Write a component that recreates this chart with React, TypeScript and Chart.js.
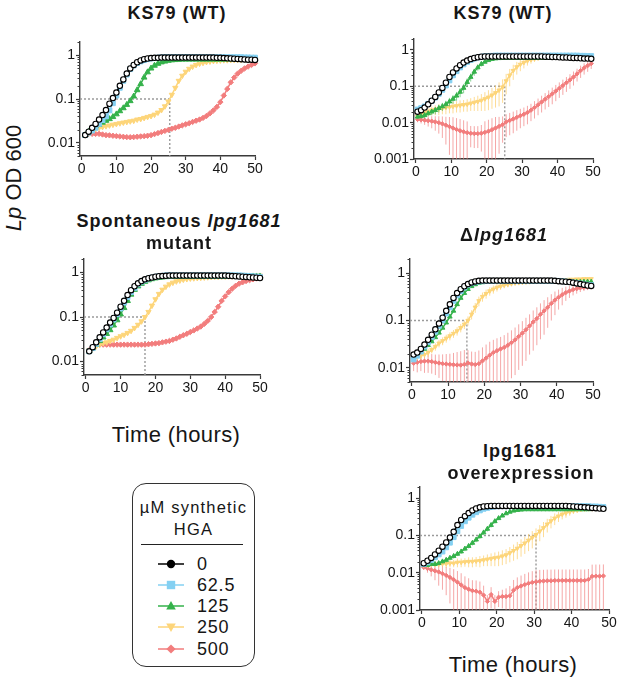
import React, { useEffect, useRef } from "react";
import { Chart, registerables } from "chart.js";

Chart.register(...registerables);

const FONT = "'Liberation Sans', Arial, Helvetica, sans-serif";
const AXIS = "#3a3a3a";
const TEXT = "#161616";

// ---------- categories / ticks ----------
const doseLabels = ["0", "62.5", "125", "250", "500"];
const xTicks = [0, 10, 20, 30, 40, 50];
const yTicksA = [0.01, 0.1, 1];
const yTicksB = [0.001, 0.01, 0.1, 1];
const crossTimes = [25.4, 25.1, 17, 15.2, 30.5];

// ---------- time points (hours) ----------
const hoursLeft = [1,2,3,4,5,6,7,8,9,10,11,12,13,14,15,16,17,18,19,20,21,22,23,24,25,26,27,28,29,30,31,32,33,34,35,36,37,38,39,40,41,42,43,44,45,46,47,48,49,50];
const hoursRight = [0.5,1.5,2.5,3.5,4.5,5.5,6.5,7.5,8.5,9.5,10.5,11.5,12.5,13.5,14.5,15.5,16.5,17.5,18.5,19.5,20.5,21.5,22.5,23.5,24.5,25.5,26.5,27.5,28.5,29.5,30.5,31.5,32.5,33.5,34.5,35.5,36.5,37.5,38.5,39.5,40.5,41.5,42.5,43.5,44.5,45.5,46.5,47.5,48.5,49.5];
const hoursOver = [0.5,1.5,2.5,3.5,4.5,5.5,6.5,7.5,8.5,9.5,10.5,11.5,12.5,13.5,14.5,15.5,16.5,17.5,18.5,19.5,20.5,21.5,22.5,23.5,24.5,25.5,26.5,27.5,28.5,29.5,30.5,31.5,32.5,33.5,34.5,35.5,36.5,37.5,38.5,39.5,40.5,41.5,42.5,43.5,44.5,45.5,46.5,47.5,48.5];

// ---------- Panel 1: KS79 (WT), left ----------
const wtA_0 = [0.015,0.018,0.022,0.027,0.034,0.043,0.056,0.078,0.105,0.14,0.2,0.28,0.38,0.5,0.6,0.69,0.76,0.81,0.84,0.86,0.87,0.87,0.88,0.88,0.88,0.88,0.88,0.88,0.88,0.88,0.88,0.88,0.88,0.88,0.88,0.88,0.88,0.88,0.87,0.87,0.86,0.85,0.84,0.83,0.82,0.81,0.8,0.79,0.79,0.78];
const wtA_62 = [0.015,0.017,0.019,0.022,0.027,0.033,0.04,0.055,0.08,0.12,0.18,0.26,0.36,0.48,0.58,0.66,0.72,0.77,0.81,0.84,0.86,0.88,0.89,0.9,0.9,0.9,0.9,0.9,0.9,0.9,0.9,0.9,0.9,0.9,0.9,0.9,0.9,0.9,0.9,0.9,0.9,0.9,0.9,0.9,0.9,0.9,0.89,0.89,0.88,0.88];
const wtA_125 = [0.015,0.018,0.021,0.024,0.026,0.029,0.032,0.035,0.039,0.045,0.053,0.062,0.074,0.09,0.115,0.16,0.22,0.31,0.41,0.5,0.58,0.64,0.69,0.72,0.75,0.77,0.78,0.79,0.8,0.8,0.8,0.8,0.8,0.8,0.8,0.8,0.8,0.8,0.8,0.8,0.8,0.81,0.81,0.81,0.81,0.82,0.82,0.82,0.82,0.82];
const wtA_250 = [0.015,0.017,0.019,0.021,0.022,0.023,0.024,0.025,0.026,0.027,0.028,0.029,0.03,0.031,0.032,0.034,0.035,0.037,0.039,0.041,0.044,0.049,0.056,0.068,0.088,0.125,0.18,0.26,0.34,0.42,0.49,0.55,0.6,0.64,0.67,0.7,0.72,0.74,0.75,0.76,0.77,0.77,0.78,0.78,0.79,0.79,0.8,0.8,0.8,0.8];
const wtA_500 = [0.015,0.016,0.016,0.016,0.016,0.0155,0.015,0.0148,0.0145,0.0142,0.014,0.0137,0.0135,0.0134,0.0135,0.0138,0.014,0.0142,0.0145,0.015,0.0158,0.0167,0.0177,0.0187,0.0197,0.021,0.022,0.0235,0.025,0.0265,0.028,0.03,0.032,0.034,0.037,0.041,0.047,0.055,0.066,0.085,0.12,0.17,0.24,0.31,0.38,0.44,0.5,0.55,0.6,0.65];

// ---------- Panel 2: KS79 (WT), right ----------
const wtB_0 = [0.02,0.022,0.026,0.032,0.04,0.051,0.068,0.09,0.125,0.18,0.24,0.31,0.38,0.45,0.51,0.56,0.6,0.63,0.65,0.66,0.66,0.66,0.66,0.66,0.66,0.66,0.66,0.66,0.66,0.66,0.66,0.66,0.66,0.66,0.66,0.66,0.65,0.65,0.64,0.64,0.63,0.62,0.62,0.61,0.6,0.6,0.59,0.58,0.58,0.57];
const wtB_62 = [0.023,0.025,0.028,0.033,0.04,0.049,0.062,0.08,0.105,0.145,0.2,0.26,0.33,0.4,0.47,0.53,0.58,0.62,0.65,0.67,0.68,0.69,0.7,0.7,0.7,0.7,0.7,0.7,0.7,0.7,0.7,0.7,0.7,0.7,0.7,0.7,0.7,0.7,0.7,0.7,0.7,0.7,0.7,0.7,0.7,0.7,0.69,0.69,0.68,0.68];
const wtB_125 = [0.0145,0.015,0.016,0.018,0.02,0.022,0.025,0.028,0.032,0.038,0.045,0.055,0.07,0.09,0.13,0.18,0.25,0.33,0.41,0.47,0.52,0.56,0.58,0.59,0.6,0.6,0.6,0.6,0.6,0.6,0.6,0.6,0.6,0.6,0.6,0.6,0.6,0.6,0.6,0.6,0.6,0.6,0.6,0.6,0.6,0.6,0.6,0.6,0.6,0.6];
const wtB_125sd = [0.002,0.002,0.003,0.003,0.004,0.005,0.006,0.007,0.008,0.01,0.012,0.015,0.02,0.026,0.035,0.045,0.055,0.06,0.06,0.05,0.04,0.03,0.025,0.02,0.02,0.02,0.02,0.02,0.02,0.02,0.02,0.02,0.02,0.02,0.02,0.02,0.02,0.02,0.02,0.02,0.02,0.02,0.02,0.02,0.02,0.02,0.02,0.02,0.02,0.02];
const wtB_250 = [0.015,0.017,0.019,0.02,0.022,0.023,0.024,0.025,0.026,0.027,0.028,0.029,0.03,0.031,0.032,0.034,0.036,0.038,0.041,0.045,0.05,0.057,0.066,0.078,0.095,0.14,0.2,0.27,0.34,0.4,0.45,0.5,0.54,0.57,0.6,0.62,0.64,0.65,0.66,0.67,0.67,0.67,0.67,0.67,0.67,0.67,0.67,0.67,0.67,0.67];
const wtB_250sd = [0.002,0.003,0.004,0.005,0.006,0.007,0.008,0.008,0.009,0.009,0.01,0.01,0.011,0.011,0.012,0.013,0.015,0.017,0.02,0.024,0.028,0.033,0.04,0.05,0.06,0.08,0.1,0.12,0.13,0.14,0.14,0.13,0.12,0.1,0.08,0.07,0.06,0.05,0.045,0.04,0.04,0.04,0.04,0.04,0.04,0.04,0.04,0.04,0.04,0.04];
const wtB_500 = [0.0123,0.012,0.0117,0.0113,0.011,0.0105,0.01,0.0093,0.0085,0.0078,0.0071,0.0065,0.006,0.0056,0.0053,0.0051,0.005,0.005,0.0051,0.0054,0.0058,0.0064,0.0071,0.0079,0.0088,0.0105,0.0115,0.0126,0.014,0.0155,0.017,0.019,0.022,0.026,0.031,0.037,0.044,0.052,0.062,0.074,0.088,0.105,0.125,0.15,0.18,0.22,0.27,0.32,0.37,0.42];
const wtB_500sd = [0.002,0.0025,0.003,0.0035,0.004,0.0045,0.005,0.0055,0.006,0.0065,0.007,0.0068,0.0065,0.006,0.0055,0.003,0.003,0.003,0.0035,0.0055,0.0062,0.0068,0.0072,0.0065,0.006,0.0065,0.007,0.0075,0.008,0.0085,0.009,0.01,0.011,0.013,0.015,0.018,0.021,0.025,0.03,0.035,0.04,0.047,0.055,0.065,0.075,0.085,0.1,0.11,0.12,0.12];

// ---------- Panel 3: spontaneous lpg1681 mutant ----------
const spon_0 = [0.017,0.021,0.027,0.035,0.045,0.058,0.075,0.095,0.125,0.17,0.23,0.31,0.4,0.49,0.57,0.64,0.7,0.74,0.77,0.8,0.82,0.83,0.84,0.85,0.85,0.85,0.85,0.85,0.85,0.85,0.85,0.85,0.85,0.85,0.85,0.85,0.85,0.85,0.85,0.85,0.84,0.83,0.82,0.81,0.8,0.79,0.78,0.77,0.76,0.75];
const spon_62 = [0.017,0.02,0.025,0.032,0.041,0.053,0.068,0.088,0.115,0.155,0.21,0.28,0.36,0.45,0.54,0.62,0.68,0.73,0.77,0.8,0.82,0.84,0.86,0.86,0.86,0.86,0.86,0.86,0.86,0.86,0.86,0.86,0.86,0.86,0.86,0.86,0.86,0.86,0.86,0.86,0.86,0.86,0.86,0.86,0.85,0.84,0.83,0.82,0.81,0.8];
const spon_125 = [0.017,0.02,0.024,0.029,0.035,0.042,0.051,0.065,0.085,0.115,0.16,0.23,0.32,0.41,0.49,0.56,0.62,0.67,0.71,0.74,0.76,0.78,0.79,0.8,0.8,0.8,0.8,0.8,0.8,0.8,0.8,0.8,0.8,0.8,0.8,0.8,0.8,0.8,0.8,0.8,0.81,0.81,0.81,0.81,0.82,0.82,0.82,0.82,0.82,0.82];
const spon_250 = [0.018,0.02,0.022,0.024,0.026,0.027,0.029,0.031,0.034,0.037,0.04,0.044,0.049,0.057,0.067,0.08,0.1,0.13,0.18,0.25,0.33,0.41,0.48,0.54,0.59,0.63,0.66,0.69,0.71,0.73,0.74,0.75,0.76,0.77,0.78,0.79,0.8,0.8,0.81,0.81,0.82,0.82,0.83,0.83,0.84,0.84,0.85,0.85,0.85,0.85];
const spon_500 = [0.018,0.021,0.023,0.024,0.024,0.024,0.024,0.024,0.024,0.024,0.024,0.024,0.024,0.024,0.024,0.024,0.024,0.0245,0.025,0.0255,0.026,0.027,0.028,0.029,0.031,0.033,0.036,0.039,0.042,0.046,0.05,0.055,0.061,0.07,0.082,0.1,0.13,0.17,0.23,0.29,0.36,0.43,0.5,0.56,0.6,0.64,0.67,0.7,0.73,0.76];

// ---------- Panel 4: Δlpg1681 ----------
const del_0 = [0.019,0.021,0.025,0.031,0.039,0.05,0.065,0.086,0.115,0.16,0.22,0.3,0.38,0.46,0.53,0.59,0.64,0.67,0.69,0.7,0.7,0.7,0.7,0.7,0.7,0.7,0.7,0.7,0.7,0.7,0.7,0.7,0.7,0.7,0.7,0.7,0.7,0.7,0.7,0.69,0.68,0.67,0.66,0.65,0.63,0.61,0.59,0.57,0.55,0.54];
const del_62 = [0.015,0.018,0.022,0.028,0.035,0.045,0.058,0.077,0.1,0.14,0.19,0.26,0.34,0.42,0.5,0.57,0.62,0.65,0.67,0.68,0.69,0.69,0.69,0.69,0.69,0.69,0.69,0.69,0.69,0.69,0.69,0.69,0.69,0.69,0.69,0.69,0.69,0.69,0.69,0.69,0.69,0.68,0.67,0.66,0.64,0.62,0.6,0.58,0.57,0.56];
const del_125 = [0.017,0.019,0.022,0.025,0.03,0.036,0.044,0.055,0.07,0.09,0.12,0.16,0.22,0.3,0.38,0.46,0.53,0.58,0.62,0.64,0.65,0.66,0.66,0.66,0.66,0.66,0.66,0.66,0.66,0.66,0.66,0.66,0.66,0.66,0.66,0.66,0.66,0.66,0.66,0.66,0.66,0.66,0.66,0.66,0.66,0.66,0.66,0.66,0.66,0.66];
const del_250 = [0.016,0.017,0.018,0.019,0.021,0.024,0.028,0.033,0.037,0.042,0.047,0.053,0.06,0.07,0.083,0.1,0.135,0.19,0.26,0.32,0.37,0.42,0.46,0.5,0.53,0.56,0.58,0.6,0.62,0.63,0.64,0.65,0.66,0.67,0.68,0.69,0.7,0.7,0.71,0.72,0.72,0.73,0.73,0.74,0.74,0.75,0.75,0.76,0.76,0.76];
const del_250sd = [0.002,0.002,0.003,0.003,0.004,0.004,0.005,0.006,0.007,0.008,0.009,0.01,0.012,0.014,0.017,0.022,0.03,0.045,0.06,0.07,0.08,0.085,0.09,0.09,0.085,0.08,0.075,0.07,0.06,0.05,0.04,0.04,0.04,0.04,0.04,0.04,0.04,0.04,0.04,0.04,0.04,0.04,0.04,0.04,0.04,0.04,0.04,0.04,0.04,0.04];
const del_500 = [0.0125,0.013,0.0135,0.0138,0.0138,0.0135,0.013,0.0126,0.0122,0.012,0.0118,0.0116,0.0115,0.0114,0.0118,0.0126,0.012,0.0117,0.0122,0.014,0.016,0.0185,0.021,0.023,0.025,0.027,0.03,0.034,0.039,0.046,0.054,0.064,0.077,0.093,0.11,0.135,0.16,0.19,0.23,0.27,0.31,0.35,0.39,0.42,0.45,0.47,0.49,0.5,0.51,0.52];
const del_500sd = [0.004,0.005,0.005,0.006,0.006,0.006,0.006,0.0065,0.007,0.0075,0.008,0.009,0.01,0.011,0.012,0.011,0.01,0.01,0.011,0.013,0.015,0.017,0.018,0.019,0.02,0.022,0.025,0.028,0.032,0.037,0.043,0.05,0.058,0.07,0.08,0.095,0.11,0.12,0.13,0.14,0.14,0.14,0.13,0.12,0.11,0.1,0.09,0.08,0.07,0.06];

// ---------- Panel 5: lpg1681 overexpression ----------
const over_0 = [0.018,0.021,0.025,0.031,0.039,0.05,0.065,0.088,0.125,0.19,0.26,0.33,0.4,0.47,0.53,0.57,0.6,0.61,0.62,0.62,0.62,0.62,0.62,0.62,0.62,0.62,0.62,0.62,0.62,0.62,0.62,0.62,0.62,0.62,0.62,0.62,0.62,0.62,0.62,0.61,0.6,0.59,0.58,0.57,0.56,0.55,0.54,0.53,0.52];
const over_62 = [0.017,0.019,0.022,0.026,0.031,0.037,0.048,0.064,0.09,0.13,0.18,0.24,0.3,0.36,0.42,0.47,0.52,0.55,0.58,0.6,0.61,0.61,0.61,0.61,0.61,0.61,0.61,0.61,0.61,0.61,0.61,0.61,0.61,0.61,0.61,0.61,0.61,0.61,0.61,0.61,0.61,0.61,0.61,0.61,0.61,0.6,0.6,0.59,0.58];
const over_125 = [0.016,0.016,0.017,0.017,0.018,0.02,0.022,0.025,0.028,0.032,0.037,0.044,0.052,0.063,0.077,0.095,0.12,0.15,0.19,0.24,0.29,0.34,0.39,0.43,0.46,0.48,0.49,0.5,0.5,0.5,0.5,0.5,0.5,0.5,0.5,0.5,0.5,0.5,0.5,0.5,0.5,0.5,0.5,0.5,0.5,0.51,0.51,0.52,0.52];
const over_125sd = [0.001,0.001,0.001,0.002,0.002,0.002,0.003,0.003,0.004,0.004,0.005,0.006,0.007,0.009,0.011,0.014,0.018,0.022,0.026,0.03,0.032,0.032,0.03,0.025,0.02,0.015,0.012,0.01,0.01,0.01,0.01,0.01,0.01,0.01,0.01,0.01,0.01,0.01,0.01,0.01,0.01,0.01,0.01,0.01,0.01,0.01,0.01,0.01,0.01];
const over_250 = [0.016,0.016,0.017,0.017,0.017,0.0175,0.0175,0.018,0.018,0.019,0.019,0.0195,0.02,0.02,0.0205,0.021,0.022,0.023,0.024,0.025,0.026,0.028,0.03,0.034,0.039,0.045,0.053,0.062,0.074,0.088,0.105,0.13,0.16,0.2,0.245,0.29,0.33,0.37,0.4,0.43,0.46,0.48,0.5,0.51,0.52,0.52,0.53,0.53,0.53];
const over_250sd = [0.001,0.002,0.002,0.003,0.003,0.003,0.004,0.004,0.004,0.005,0.005,0.005,0.006,0.006,0.006,0.007,0.007,0.008,0.009,0.01,0.011,0.012,0.013,0.015,0.018,0.022,0.026,0.03,0.036,0.043,0.05,0.06,0.07,0.08,0.09,0.1,0.1,0.1,0.1,0.09,0.08,0.07,0.06,0.05,0.05,0.05,0.05,0.05,0.05];
const over_500 = [0.014,0.013,0.012,0.0113,0.0105,0.0095,0.0085,0.0075,0.0065,0.0056,0.0047,0.004,0.0036,0.0033,0.0032,0.003,0.0025,0.0017,0.0026,0.0017,0.0022,0.0023,0.0023,0.0024,0.0034,0.004,0.0044,0.0048,0.0052,0.0055,0.0057,0.0059,0.006,0.0061,0.0061,0.0062,0.0062,0.0062,0.0062,0.0062,0.0062,0.0062,0.0062,0.0062,0.0066,0.008,0.0081,0.0081,0.0082];
const over_500sd = [0.002,0.003,0.004,0.005,0.006,0.006,0.006,0.006,0.006,0.0055,0.005,0.004,0.0035,0.003,0.003,0.0028,0.002,0.0008,0.0015,0.0008,0.001,0.0012,0.0015,0.002,0.003,0.0035,0.004,0.0045,0.005,0.0055,0.006,0.006,0.006,0.006,0.006,0.006,0.006,0.006,0.006,0.006,0.006,0.006,0.006,0.006,0.006,0.0085,0.0085,0.0085,0.0085];

// ---------- styles ----------
const STYLES = [
  { line: "#000000", shape: "circle", rot: 0, r: 2.7, fill: "#ffffff", pb: "#000000", pbw: 1.1, lw: 1.5, err: "rgba(0,0,0,0.5)" },
  { line: "#84d0f2", shape: "rect", rot: 0, r: 3.4, fill: "#84d0f2", pb: "#84d0f2", pbw: 1, lw: 1.5, err: "rgba(132,208,242,0.7)" },
  { line: "#35b24b", shape: "triangle", rot: 0, r: 3.3, fill: "#35b24b", pb: "#35b24b", pbw: 1, lw: 1.5, err: "rgba(53,178,75,0.6)" },
  { line: "#fdd57a", shape: "triangle", rot: 180, r: 3.0, fill: "#fdd57a", pb: "#fdd57a", pbw: 1, lw: 1.5, err: "rgba(252,205,105,0.7)" },
  { line: "#f27d7d", shape: "rectRot", rot: 0, r: 2.7, fill: "#f27d7d", pb: "#f27d7d", pbw: 1, lw: 1.5, err: "rgba(240,120,120,0.65)" },
];

type PanelCfg = {
  id: string;
  area: { l: number; r: number; t: number; b: number };
  ymin: number;
  yticks: number[];
  cross: number;
  hours: number[];
  series: number[][];
  sd: (number[] | null)[];
  small: boolean;
};

const panels: PanelCfg[] = [
  { id: "p1", area: { l: 80, r: 255, t: 42, b: 156 }, ymin: 0.005, yticks: yTicksA, cross: crossTimes[0], hours: hoursLeft,
    series: [wtA_0, wtA_62, wtA_125, wtA_250, wtA_500], sd: [null, null, null, null, null], small: false },
  { id: "p2", area: { l: 414, r: 593, t: 39, b: 159 }, ymin: 0.001, yticks: yTicksB, cross: crossTimes[1], hours: hoursRight,
    series: [wtB_0, wtB_62, wtB_125, wtB_250, wtB_500], sd: [null, null, wtB_125sd, wtB_250sd, wtB_500sd], small: true },
  { id: "p3", area: { l: 84, r: 260, t: 259, b: 375 }, ymin: 0.005, yticks: yTicksA, cross: crossTimes[2], hours: hoursLeft,
    series: [spon_0, spon_62, spon_125, spon_250, spon_500], sd: [null, null, null, null, null], small: false },
  { id: "p4", area: { l: 410, r: 593, t: 259, b: 382 }, ymin: 0.005, yticks: yTicksA, cross: crossTimes[3], hours: hoursRight,
    series: [del_0, del_62, del_125, del_250, del_500], sd: [null, null, null, del_250sd, del_500sd], small: true },
  { id: "p5", area: { l: 420, r: 609, t: 487, b: 610 }, ymin: 0.001, yticks: yTicksB, cross: crossTimes[4], hours: hoursOver,
    series: [over_0, over_62, over_125, over_250, over_500], sd: [null, null, over_125sd, over_250sd, over_500sd], small: true },
];

const WY = 46;
const HX = 22;
const PT = 12;
const PR = 14;

// ---------- plugins ----------
const refLinePlugin = {
  id: "refLines",
  beforeDatasetsDraw(chart: any, _args: any, opts: any) {
    const { ctx, chartArea, scales } = chart;
    const px = scales.x.getPixelForValue(opts.t);
    const py = scales.y.getPixelForValue(opts.level);
    ctx.save();
    ctx.strokeStyle = "#9a9a9a";
    ctx.lineWidth = 1.4;
    ctx.setLineDash([2, 2]);
    ctx.beginPath();
    ctx.moveTo(chartArea.left, py);
    ctx.lineTo(px, py);
    ctx.moveTo(px, py);
    ctx.lineTo(px, chartArea.bottom);
    ctx.stroke();
    ctx.restore();
  },
};

const errorBarPlugin = {
  id: "errorBars",
  beforeDatasetDraw(chart: any, args: any) {
    const ds: any = chart.data.datasets[args.index];
    if (!ds.sd) return;
    const { ctx, chartArea } = chart;
    const y = chart.scales.y;
    const meta = args.meta;
    ctx.save();
    ctx.strokeStyle = ds.errColor;
    ctx.lineWidth = 1;
    ds.data.forEach((pt: any, i: number) => {
      const sd = ds.sd[i];
      const el = meta.data[i];
      if (sd == null || !el) return;
      const hi = pt.y + sd;
      const lo = pt.y - sd;
      const yHi = Math.max(y.getPixelForValue(hi), chartArea.top);
      const yLo = lo > y.min ? y.getPixelForValue(lo) : chartArea.bottom;
      ctx.beginPath();
      ctx.moveTo(el.x, yHi);
      ctx.lineTo(el.x, yLo);
      ctx.stroke();
    });
    ctx.restore();
  },
};

const minorTickPlugin = {
  id: "minorTicks",
  afterDraw(chart: any) {
    const { ctx, chartArea } = chart;
    const y = chart.scales.y;
    ctx.save();
    ctx.strokeStyle = AXIS;
    ctx.lineWidth = 1;
    for (let e = -4; e <= 1; e++) {
      for (let k = 2; k <= 9; k++) {
        const v = k * Math.pow(10, e);
        if (v < y.min - 1e-12 || v > y.max + 1e-9) continue;
        const py = Math.round(y.getPixelForValue(v)) + 0.5;
        ctx.beginPath();
        ctx.moveTo(chartArea.left - 2.5, py);
        ctx.lineTo(chartArea.left, py);
        ctx.stroke();
      }
    }
    ctx.restore();
  },
};

function PanelChart({ p }: { p: PanelCfg }) {
  const ref = useRef<HTMLCanvasElement>(null);
  const a = p.area;
  const w = a.r - a.l + WY + PR;
  const h = a.b - a.t + PT + HX;
  useEffect(() => {
    if (!ref.current) return;
    const datasets = p.series.map((ys, i) => {
      const st = STYLES[i];
      const r = p.small && i >= 2 ? st.r * 0.8 : st.r;
      return {
        label: doseLabels[i],
        data: ys.map((v, j) => ({ x: p.hours[j], y: v })),
        sd: p.sd[i],
        errColor: st.err,
        borderColor: st.line,
        borderWidth: st.lw,
        pointStyle: st.shape,
        pointRotation: st.rot,
        pointRadius: r,
        pointHoverRadius: r,
        pointBackgroundColor: st.fill,
        pointBorderColor: st.pb,
        pointBorderWidth: st.pbw,
        tension: 0,
        fill: false,
        clip: false as any,
      };
    });
    const tickFont = { family: FONT, size: 14 };
    const chart = new Chart(ref.current, {
      type: "line",
      data: { datasets: datasets as any },
      options: {
        animation: false,
        responsive: false,
        events: [],
        layout: { padding: { top: PT, right: PR, left: 0, bottom: 0 } },
        plugins: {
          legend: { display: false },
          tooltip: { enabled: false },
          refLines: { t: p.cross, level: 0.1 },
        } as any,
        scales: {
          x: {
            type: "linear",
            min: -0.5,
            max: 50,
            afterBuildTicks: (s: any) => {
              s.ticks = xTicks.map((v) => ({ value: v }));
            },
            afterFit: (s: any) => {
              s.height = HX;
            },
            ticks: { font: tickFont, color: TEXT, padding: 1, maxRotation: 0, autoSkip: false },
            grid: { display: true, drawOnChartArea: false, drawTicks: true, tickLength: 4, tickColor: AXIS, tickWidth: 1.2 },
            border: { display: true, color: AXIS, width: 1.4 },
          },
          y: {
            type: "logarithmic",
            min: p.ymin,
            max: 2,
            afterBuildTicks: (s: any) => {
              s.ticks = p.yticks.map((v) => ({ value: v }));
            },
            afterFit: (s: any) => {
              s.width = WY;
            },
            ticks: {
              font: tickFont,
              color: TEXT,
              padding: 1,
              autoSkip: false,
              callback: (v: any) => String(v),
            },
            grid: { display: true, drawOnChartArea: false, drawTicks: true, tickLength: 4, tickColor: AXIS, tickWidth: 1.2 },
            border: { display: true, color: AXIS, width: 1.4 },
          },
        },
      },
      plugins: [refLinePlugin, errorBarPlugin, minorTickPlugin],
    } as any);
    return () => chart.destroy();
  }, []);
  return (
    <canvas
      ref={ref}
      width={w}
      height={h}
      style={{ position: "absolute", left: a.l - WY, top: a.t - PT, width: w, height: h }}
    />
  );
}

function Txt({ x, y, size, bold, ls, children }: { x: number; y: number; size: number; bold?: boolean; ls?: number; children: any }) {
  return (
    <div
      style={{
        position: "absolute",
        left: x,
        top: y,
        transform: "translate(-50%, -50%)",
        fontSize: size,
        fontWeight: bold ? 700 : 400,
        letterSpacing: ls ?? 0,
        lineHeight: 1,
        whiteSpace: "nowrap",
        color: TEXT,
      }}
    >
      {children}
    </div>
  );
}

function LegendMarker({ i }: { i: number }) {
  const st = STYLES[i];
  const cx = 14;
  const cy = 7;
  let shape: any = null;
  if (i === 0) shape = <circle cx={cx} cy={cy} r={4.2} fill="#000" />;
  if (i === 1) shape = <rect x={cx - 4.2} y={cy - 4.2} width={8.4} height={8.4} fill={st.fill} />;
  if (i === 2) shape = <polygon points={`${cx},${cy - 5} ${cx - 4.8},${cy + 3.5} ${cx + 4.8},${cy + 3.5}`} fill={st.fill} />;
  if (i === 3) shape = <polygon points={`${cx},${cy + 5} ${cx - 4.8},${cy - 3.5} ${cx + 4.8},${cy - 3.5}`} fill={st.fill} />;
  if (i === 4) shape = <polygon points={`${cx},${cy - 4.6} ${cx + 4.6},${cy} ${cx},${cy + 4.6} ${cx - 4.6},${cy}`} fill={st.fill} />;
  return (
    <svg width={28} height={14} style={{ position: "absolute", left: 157, top: 0 }}>
      <line x1={1} y1={cy} x2={27} y2={cy} stroke={i === 0 ? "#000" : st.line} strokeWidth={1.5} />
      {shape}
    </svg>
  );
}

const legendRows = [564, 585, 606, 627, 649];

export default function App() {
  return (
    <div
      style={{
        position: "fixed",
        left: 0,
        top: 0,
        width: 617,
        height: 680,
        overflow: "hidden",
        background: "#ffffff",
        fontFamily: FONT,
      }}
    >
      {panels.map((p) => (
        <PanelChart key={p.id} p={p} />
      ))}

      {/* panel titles */}
      <Txt x={177} y={13} size={18} bold ls={1}>KS79 (WT)</Txt>
      <Txt x={503} y={13} size={18} bold ls={1}>KS79 (WT)</Txt>
      <Txt x={179} y={221} size={18} bold ls={1}>
        Spontaneous <i>lpg1681</i>
      </Txt>
      <Txt x={179} y={243} size={18} bold ls={1}>mutant</Txt>
      <Txt x={504} y={235} size={18} bold ls={1}>
        Δ<i>lpg1681</i>
      </Txt>
      <Txt x={520} y={451} size={18} bold ls={1}>lpg1681</Txt>
      <Txt x={521} y={473} size={18} bold ls={1}>overexpression</Txt>

      {/* axis titles */}
      <Txt x={176} y={435} size={22} ls={0.4}>Time (hours)</Txt>
      <Txt x={513} y={665} size={22} ls={0.4}>Time (hours)</Txt>
      <div
        style={{
          position: "absolute",
          left: 14,
          top: 178,
          transform: "translate(-50%, -50%) rotate(-90deg)",
          fontSize: 22,
          lineHeight: 1,
          whiteSpace: "nowrap",
          color: TEXT,
        }}
      >
        <i>Lp</i> OD 600
      </div>

      {/* legend */}
      <div
        style={{
          position: "absolute",
          left: 132,
          top: 483,
          width: 123,
          height: 184,
          border: "1.3px solid #333",
          borderRadius: 14,
          boxSizing: "border-box",
        }}
      />
      <Txt x={193.5} y={507} size={16.5} ls={1.2}>µM synthetic</Txt>
      <Txt x={193.5} y={529} size={16.5} ls={1.2}>HGA</Txt>
      <div style={{ position: "absolute", left: 141, top: 544, width: 102, height: 1, background: "#222" }} />
      {doseLabels.map((lab, i) => (
        <div key={lab} style={{ position: "absolute", left: 0, top: legendRows[i] - 7, width: 300, height: 14 }}>
          <LegendMarker i={i} />
          <div
            style={{
              position: "absolute",
              left: 197,
              top: 7,
              transform: "translateY(-50%)",
              fontSize: 18,
              letterSpacing: 0.8,
              lineHeight: 1,
              whiteSpace: "nowrap",
              color: TEXT,
            }}
          >
            {lab}
          </div>
        </div>
      ))}
    </div>
  );
}
